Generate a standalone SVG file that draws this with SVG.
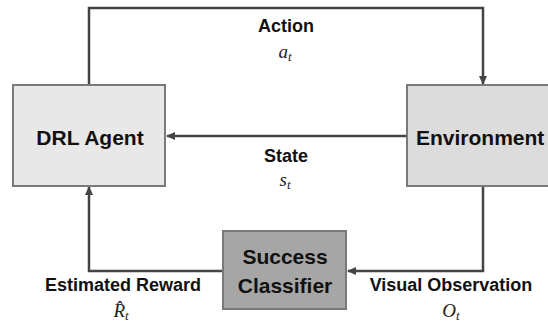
<svg xmlns="http://www.w3.org/2000/svg" width="548" height="323" viewBox="0 0 548 323">
<defs>
<style>
.box{stroke:#7a7a7a;stroke-width:2}
.lbl{font-family:"Liberation Sans",Arial,sans-serif;font-weight:bold;fill:#111}
.node{font-size:21px}
.edge{font-size:18px}
.math{font-family:"Liberation Serif","Times New Roman",serif;font-style:italic;font-size:19px;fill:#222}
.con{fill:none;stroke:#444;stroke-width:2.5}
</style>
<marker id="ah" markerWidth="9" markerHeight="8" refX="8" refY="4" orient="auto" markerUnits="userSpaceOnUse">
<path d="M0,0 L9,4 L0,8 z" fill="#444"/>
</marker>
</defs>
<rect width="548" height="323" fill="#ffffff"/>
<g id="connectors">
<path class="con" d="M89,85 V8 H483 V84" marker-end="url(#ah)"/>
<path class="con" d="M408,136 H167" marker-end="url(#ah)"/>
<path class="con" d="M223,271 H89 V187" marker-end="url(#ah)"/>
<path class="con" d="M483,187 V271 H348" marker-end="url(#ah)"/>
</g>
<g id="agent">
<rect class="box" x="13" y="85" width="152" height="101" fill="#e8e8e8"/>
<text class="lbl node" x="90" y="145" text-anchor="middle">DRL Agent</text>
</g>
<g id="environment">
<rect class="box" x="407" y="85" width="150" height="101" fill="#dcdcdc"/>
<text class="lbl node" x="416" y="145">Environment</text>
</g>
<g id="classifier">
<rect class="box" x="223" y="231" width="123" height="78" fill="#a6a6a6"/>
<text class="lbl node" x="285" y="264" text-anchor="middle" font-size="20">Success</text>
<text class="lbl node" x="285" y="293" text-anchor="middle" font-size="20">Classifier</text>
</g>
<g id="labels">
<text class="lbl edge" x="286" y="32" text-anchor="middle">Action</text>
<text class="math" x="285" y="58" text-anchor="middle">a<tspan font-size="13" dy="3">t</tspan></text>
<text class="lbl edge" x="286" y="162" text-anchor="middle">State</text>
<text class="math" x="285" y="186" text-anchor="middle">s<tspan font-size="13" dy="3">t</tspan></text>
<text class="lbl edge" x="123" y="291" text-anchor="middle">Estimated Reward</text>
<text class="math" x="121" y="317" text-anchor="middle">R̂<tspan font-size="13" dy="3">t</tspan></text>
<text class="lbl edge" x="451" y="291" text-anchor="middle">Visual Observation</text>
<text class="math" x="451" y="317" text-anchor="middle">O<tspan font-size="13" dy="3">t</tspan></text>
</g>
</svg>
